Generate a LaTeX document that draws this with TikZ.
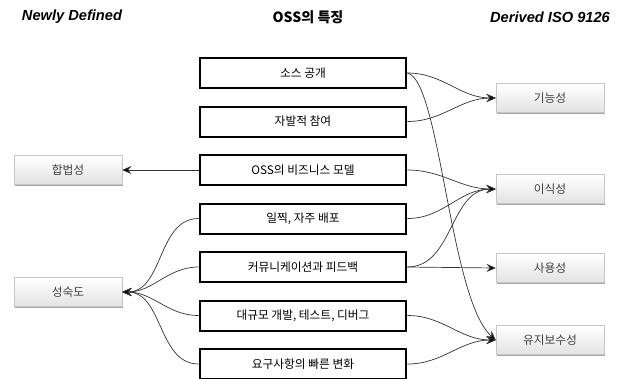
\documentclass[tikz,border=0pt]{standalone}
\usepackage{fontspec}
\setmainfont{Noto Sans CJK KR}
\newfontfamily\latinfont{Liberation Sans}
\usetikzlibrary{shadows,arrows.meta}

\tikzset{
  caja/.style={draw, line width=1.7pt, minimum width=6.2cm, minimum height=0.9cm,
    inner sep=0pt, font=\fontsize{10}{12}\selectfont},
  gris/.style={draw=gray!45, line width=0.4pt, top color=white, bottom color=gray!22,
    minimum width=3.24cm, minimum height=0.87cm, inner sep=0pt, text=black!75,
    font=\fontsize{10}{12}\selectfont,
    drop shadow={shadow xshift=1.2pt, shadow yshift=-1.2pt, fill=gray!70, opacity=1}},
  titulo/.style={font=\latinfont\bfseries\itshape\fontsize{12.5}{14}\selectfont},
  flecha/.style={-{Stealth[length=8pt,width=7pt,inset=3pt,fill=black]}, draw=black!80, line width=0.6pt}
}

\begin{document}
\begin{tikzpicture}[x=0.03cm, y=-0.03cm]
  \useasboundingbox (0,0) rectangle (624,378);

  % encabezados
  \node[titulo] (h1) at (72,17) {Newly Defined};
  \node[font=\bfseries\fontsize{12}{14}\selectfont] (h2) at (308,17) {OSS의 특징};
  \node[titulo] (h3) at (550,17) {Derived ISO 9126};

  % cajas centrales, una debajo de otra
  \foreach \t [count=\i] in {소스 공개, 자발적 참여, OSS의 비즈니스 모델, {일찍, 자주 배포},
      커뮤니케이션과 피드백, {대규모 개발, 테스트, 디버그}, 요구사항의 빠른 변화}
    \node[caja] (c\i) at (303,{73+(\i-1)*48.5}) {\t};

  % cajas grises de la izquierda y de la derecha
  \node[gris] (l1) at (68,170) {합법성};
  \node[gris] (l2) at (68,292) {성숙도};
  \node[gris] (r1) at (550,98) {기능성};
  \node[gris] (r2) at (550,189) {이식성};
  \node[gris] (r3) at (550,268) {사용성};
  \node[gris] (r4) at (550,340) {유지보수성};

  % hacia la izquierda
  \draw[flecha] (c3.west) -- (l1.east);
  \foreach \x in {4,...,7}
    \draw[flecha] (c\x.west) to[out=180, in=0] (l2.east);

  % hacia la derecha
  \draw[flecha] (c1.east) to[out=0, in=180] (r1.west);
  \draw[flecha] (c2.east) to[out=0, in=180] (r1.west);
  \foreach \x in {3,4,5}
    \draw[flecha] (c\x.east) to[out=0, in=180] (r2.west);
  \draw[flecha] (c5.east) -- (r3.west);
  \draw[flecha] (c1.east) .. controls +(33,7) and +(-46,-40) .. (r4.west);
  \draw[flecha] (c6.east) to[out=0, in=180] (r4.west);
  \draw[flecha] (c7.east) to[out=0, in=180] (r4.west);
\end{tikzpicture}
\end{document}
